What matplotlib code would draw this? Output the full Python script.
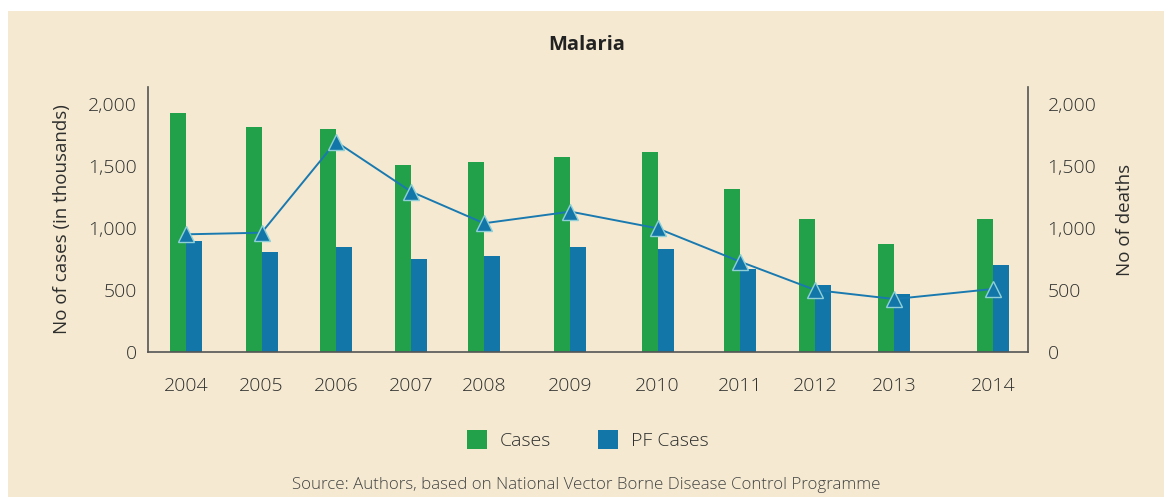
import matplotlib.pyplot as plt
from matplotlib.patches import Rectangle, Patch

plt.rcParams['font.family'] = ['Open Sans', 'DejaVu Sans']
plt.rcParams['font.weight'] = 'light'

years = ['2004', '2005', '2006', '2007', '2008', '2009',
         '2010', '2011', '2012', '2013', '2014']
cases = [1927, 1815, 1798, 1508, 1532, 1573, 1613, 1315, 1073, 871, 1073]   # thousands
pf_cases = [895, 806, 847, 750, 774, 847, 831, 669, 540, 468, 702]        # thousands
deaths = [949, 962, 1696, 1293, 1038, 1132, 997, 729, 500, 427, 508]

# group slots (the original spaces the years unevenly)
slots = [0.475, 1.42, 2.35, 3.29, 4.2, 5.28, 6.37, 7.4, 8.34, 9.33, 10.56]

bg = '#f5ead1'
green = '#22a14a'
blue = '#1276a8'
txt = '#2e2e2e'

fig = plt.figure(figsize=(11.69, 4.97), dpi=100, facecolor='white')
fig.patches.append(Rectangle((8 / 1169, 0), (1164 - 8) / 1169, 1 - 11 / 497,
                             transform=fig.transFigure, facecolor=bg,
                             edgecolor='none', zorder=-10))

ax = fig.add_axes([148 / 1169, 1 - 352 / 497, 880 / 1169, 265 / 497])
ax.set_facecolor('none')
w = 0.2
ax.bar([s - w / 2 for s in slots], cases, width=w, color=green, label='Cases')
ax.bar([s + w / 2 for s in slots], pf_cases, width=w, color=blue, label='PF Cases')
ax.set_xlim(0, 11)
ax.set_ylim(0, 2137)
ax.set_yticks([0, 500, 1000, 1500, 2000])
ax.set_yticklabels(['0', '500', '1,000', '1,500', '2,000'])
ax.set_xticks(slots)
ax.set_xticklabels(years)
ax.tick_params(length=0, labelsize=14, labelcolor=txt, pad=8)
ax.tick_params(axis='x', pad=18)
ax.set_ylabel('No of cases (in thousands)', fontsize=13.5, color=txt, labelpad=12)
for s in ['top', 'right']:
    ax.spines[s].set_visible(False)
for s in ['left', 'bottom']:
    ax.spines[s].set_color('#555555')
    ax.spines[s].set_linewidth(1.2)

ax2 = ax.twinx()
ax2.plot(slots, deaths, color='#1a7ab0', lw=1.4, marker='^', markersize=12,
         markerfacecolor=blue, markeredgecolor='#8fd0d8', markeredgewidth=1)
ax2.set_ylim(0, 2137)
ax2.set_yticks([0, 500, 1000, 1500, 2000])
ax2.set_yticklabels(['0', '500', '1,000', '1,500', '2,000'])
ax2.tick_params(length=0, labelsize=14, labelcolor=txt, pad=14)
ax2.set_ylabel('No of deaths', fontsize=13.5, color=txt, labelpad=14)
for s in ['top', 'left', 'bottom']:
    ax2.spines[s].set_visible(False)
ax2.spines['right'].set_color('#555555')
ax2.spines['right'].set_linewidth(1.2)

fig.text(587 / 1169, 1 - 45 / 497, 'Malaria', ha='center', va='center',
         fontsize=14.5, fontweight='bold', color='#222222')

handles = [Patch(facecolor=green, label='Cases'), Patch(facecolor=blue, label='PF Cases')]
fig.legend(handles=handles, loc='center', bbox_to_anchor=(588 / 1169, 1 - 440 / 497),
           ncol=2, frameon=False, fontsize=14, handlelength=1.0, handleheight=1.1,
           handletextpad=0.7, columnspacing=2.4, labelcolor=txt)

fig.text(586 / 1169, 1 - 485 / 497,
         'Source: Authors, based on National Vector Borne Disease Control Programme',
         ha='center', va='center', fontsize=12.2, color='#444444')

fig.savefig('out.png', dpi=100, facecolor=fig.get_facecolor())
